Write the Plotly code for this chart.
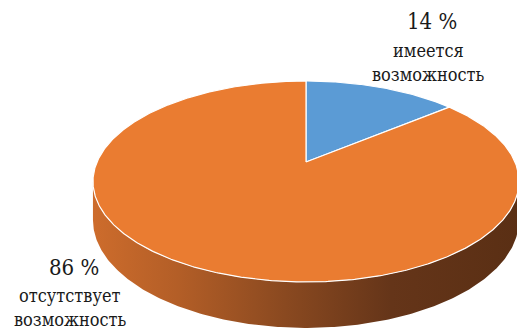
import numpy as np
import plotly.graph_objects as go

# Share of respondents (percent)
categories = ["имеется возможность", "отсутствует возможность"]
values = [14, 86]
label_lines = [["имеется", "возможность"], ["отсутствует", "возможность"]]
slice_colors = ["#5B9BD5", "#EA7C31"]

W, H = 517, 330
SERIF = "DejaVu Serif Condensed, DejaVu Serif, serif"

# Tilted-disc projection (pixel space)
CX, CY = 306.0, 162.0      # disc centre on screen
RX, RY = 209.0, 96.7       # semi-axes before perspective
K = 0.194                  # perspective strength (far side smaller)
DEPTH = 37.0               # thickness of the disc


def project(theta_deg, drop=0.0):
    """theta measured clockwise from the far (top) point of the disc."""
    t = np.radians(theta_deg)
    s = 1.0 / (1.0 + K * np.cos(t))
    x = CX + RX * np.sin(t) * s
    y = CY - RY * np.cos(t) * s + drop * s
    return x, y


fig = go.Figure()

# Visible front wall of the disc, between the two silhouette points
t_edge = np.degrees(np.arccos(-K))
front = np.linspace(t_edge, 360 - t_edge, 240)
xt, yt = project(front)
xb, yb = project(front[::-1], DEPTH)
fig.add_trace(go.Scatter(
    x=np.concatenate([xt, xb, xt[:1]]),
    y=np.concatenate([yt, yb, yt[:1]]),
    mode="lines", fill="toself", line=dict(width=0, color="rgba(0,0,0,0)"),
    fillgradient=dict(type="horizontal", colorscale=[
        [0.0, "#CD6C2C"], [0.2, "#B35E27"], [0.45, "#8A4920"],
        [0.7, "#653519"], [1.0, "#5A2F14"]]),
    hoverinfo="skip", showlegend=False))

# Top faces of the slices, starting at 12 o'clock and going clockwise
total = float(sum(values))
start = 0.0
for name, v, col in zip(categories, values, slice_colors):
    sweep = 360.0 * v / total
    th = np.linspace(start, start + sweep, max(int(sweep * 2), 8))
    x, y = project(th)
    fig.add_trace(go.Scatter(
        x=np.concatenate([[CX], x, [CX]]),
        y=np.concatenate([[CY], y, [CY]]),
        mode="lines", fill="toself", fillcolor=col,
        line=dict(color="white", width=1.2),
        name=name, hoverinfo="name", showlegend=False))
    start += sweep

# Data labels: value line plus the two-word category
label_pos = [(432, 21, [50, 74]), (74, 267, [295, 319])]
annotations = []
for v, lines, (lx, ly, sub_y) in zip(values, label_lines, label_pos):
    annotations.append(dict(x=lx, y=ly, text=f"{v} %", showarrow=False,
                            xref="x", yref="y",
                            font=dict(family=SERIF, size=22, color="#1a1a1a")))
    for line, yy in zip(lines, sub_y):
        annotations.append(dict(x=lx - 4, y=yy, text=line, showarrow=False,
                                xref="x", yref="y",
                                font=dict(family=SERIF, size=18, color="#1a1a1a")))

fig.update_layout(
    width=W, height=H, margin=dict(l=0, r=0, t=0, b=0),
    paper_bgcolor="white", plot_bgcolor="white",
    xaxis=dict(range=[0, W], visible=False, fixedrange=True),
    yaxis=dict(range=[H, 0], visible=False, fixedrange=True),
    annotations=annotations, showlegend=False)

fig.write_html("out.html")
